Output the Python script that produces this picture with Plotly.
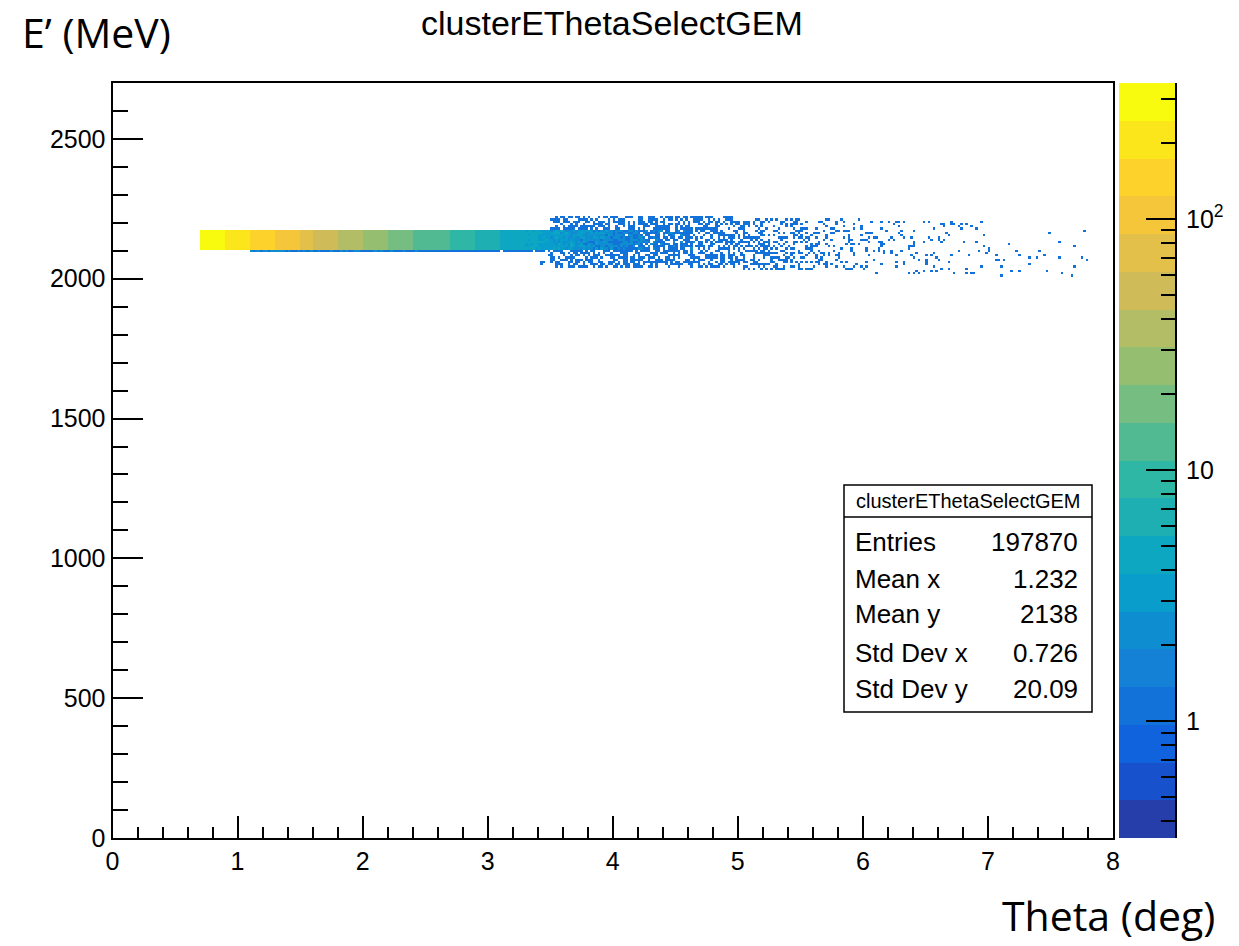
import numpy as np
import plotly.graph_objects as go

# ---------------------------------------------------------------------------
# Histogram content (cell size 0.02 deg x 8 MeV)
# ---------------------------------------------------------------------------
# Core of the elastic band, E' 2104-2176 MeV: mean entries per cell,
# one value per 0.1-deg column starting at 0.7 deg.
core_theta_start = 0.7
core_counts = [330, 285, 235, 190, 155, 130, 105, 88, 72, 60,
               50, 42, 36, 30, 25, 21, 18, 15, 13, 11,
               9.5, 8, 7, 6, 5, 4.3, 3.7, 3.2, 2.6, 2.2,
               1.8, 1.5, 1.2, 1.0, 0.8, 0.6, 0.45, 0.3, 0.2, 0.1]
# Row just below the core (2096-2104 MeV), same columns
rim_counts = [0, 0, 0, 0, 1.6, 1.6, 1.6, 1.6, 1.5, 1.5,
              1.5, 1.4, 1.4, 1.4, 1.3, 1.3, 1.3, 1.2, 1.2, 1.2,
              1.1, 1.0, 1.0, 0.9, 0.9, 0.8, 0.8, 0.8]
# Wide, sparse part: single entries per 0.1-deg column from 3.4 deg,
# spread over the energy window [halo_e_lo, halo_e_hi)
halo_theta_start = 3.4
halo_entries = [6, 55, 65, 68, 68, 68, 68, 68, 68, 68,
                68, 66, 64, 62, 60, 58, 55, 52, 48, 44,
                40, 35, 30, 26, 22, 19, 17, 15, 14, 13,
                13, 14, 13, 9, 8, 8, 5, 5, 3, 3,
                4, 3, 3, 3]
halo_e_lo = [2040] * 16 + [2032] * 10 + [2016] * 10 + [2008] * 8
halo_e_hi = [2224] * 16 + [2216] * 10 + [2208] * 10 + [2200] * 8

stats_rows = [("Entries", "197870"), ("Mean x", "1.232"), ("Mean y", "2138"),
              ("Std Dev x", "0.726"), ("Std Dev y", "20.09")]
hist_name = "clusterEThetaSelectGEM"

x_ticks = list(range(0, 9))
y_ticks = [0, 500, 1000, 1500, 2000, 2500]
z_major = [1, 10, 100]
z_major_text = ["1", "10", "10<sup>2</sup>"]
z_minor = [0.4, 0.5, 0.6, 0.7, 0.8, 0.9, 2, 3, 4, 5, 6, 7, 8, 9,
           20, 30, 40, 50, 60, 70, 80, 90, 200, 300]

# z-axis (log) range and number of colour levels
Z_MIN, Z_MAX, N_LEVELS = 0.342, 348.0, 20
L_MIN, L_MAX = np.log10(Z_MIN), np.log10(Z_MAX)

# ---------------------------------------------------------------------------
# Build the cell table
# ---------------------------------------------------------------------------
DX, DY = 0.02, 8.0
X0, NX = 0.7, 355
Y0, NY = 2000.0, 29
SUB = 5  # fine cells per 0.1-deg column
x_centers = X0 + DX * (np.arange(NX) + 0.5)
y_centers = Y0 + DY * (np.arange(NY) + 0.5)
counts = np.zeros((NY, NX))

ii, jj = np.meshgrid(np.arange(NX), np.arange(NY))
M32 = np.uint64(0xFFFFFFFF)


def hash01(a, b, salt):
    """Deterministic integer hash of a cell index, mapped to [0, 1)."""
    h = (a.astype(np.uint64) * np.uint64(73856093)) ^ \
        (b.astype(np.uint64) * np.uint64(19349663)) ^ np.uint64(salt * 83492791)
    h &= M32
    h ^= h >> np.uint64(16)
    h = (h * np.uint64(0x7FEB352D)) & M32
    h ^= h >> np.uint64(15)
    h = (h * np.uint64(0x846CA68B)) & M32
    h ^= h >> np.uint64(16)
    return h.astype(np.float64) / 4294967296.0


thr_level = hash01(ii, jj, 1)
thr_place = hash01(ii, jj, 2)


def col_slice(theta_start, c):
    i0 = int(round((theta_start + 0.1 * c - X0) / DX))
    return slice(i0, i0 + SUB)


def row_slice(e_lo, e_hi):
    return slice(int(round((e_lo - Y0) / DY)), int(round((e_hi - Y0) / DY)))


def add_level(rows, cols, level):
    """Fill cells with integer counts whose mean is `level`."""
    base = np.floor(level)
    frac = level - base
    counts[rows, cols] += base + (thr_level[rows, cols] < frac)


core_rows = row_slice(2104, 2176)
rim_rows = row_slice(2096, 2104)
for c, lv in enumerate(core_counts):
    add_level(core_rows, col_slice(core_theta_start, c), lv)
for c, lv in enumerate(rim_counts):
    add_level(rim_rows, col_slice(core_theta_start, c), lv)
for c, n in enumerate(halo_entries):
    rows = row_slice(halo_e_lo[c], halo_e_hi[c])
    cols = col_slice(halo_theta_start, c)
    block = thr_place[rows, cols]
    order = np.argsort(block, axis=None, kind="stable")[:n]
    r, q = np.unravel_index(order, block.shape)
    counts[rows.start + r, cols.start + q] += 1

z_log = np.where(counts > 0, np.log10(np.where(counts > 0, counts, 1)), np.nan)

# ---------------------------------------------------------------------------
# kBird palette sampled into discrete levels
# ---------------------------------------------------------------------------
bird_stops = [0.0, 0.125, 0.25, 0.375, 0.5, 0.625, 0.75, 0.875, 1.0]
bird_r = [0.2082, 0.0592, 0.0780, 0.0232, 0.1802, 0.5301, 0.8186, 0.9956, 0.9764]
bird_g = [0.1664, 0.3599, 0.5041, 0.6419, 0.7178, 0.7492, 0.7328, 0.7862, 0.9832]
bird_b = [0.5293, 0.8684, 0.8385, 0.7914, 0.6425, 0.4662, 0.3499, 0.1968, 0.0539]


def bird(f):
    rgb = [np.interp(f, bird_stops, ch) for ch in (bird_r, bird_g, bird_b)]
    return "rgb(%d,%d,%d)" % tuple(int(round(255 * v)) for v in rgb)


colorscale = []
for k in range(N_LEVELS):
    col = bird(min((k + 0.99) / N_LEVELS, 1.0))
    colorscale.append([k / N_LEVELS, col])
    colorscale.append([(k + 1) / N_LEVELS, col])

# ---------------------------------------------------------------------------
# Figure geometry (pixels on a 1239 x 946 page)
# ---------------------------------------------------------------------------
W, H = 1239, 946


def px(x):
    return x / W


def py(y):
    return 1 - y / H


FRAME_L, FRAME_R, FRAME_T, FRAME_B = 112.5, 1113, 83, 838
BAR_L, BAR_R = 1119, 1175
ROOT_FONT = "Liberation Sans, Arial, sans-serif"
SLIDE_FONT = "Open Sans, Lato, sans-serif"

fig = go.Figure()
fig.add_trace(go.Heatmap(
    x=x_centers, y=y_centers, z=z_log, zmin=L_MIN, zmax=L_MAX,
    colorscale=colorscale, showscale=False, zsmooth=False, hoverinfo="skip",
    xaxis="x", yaxis="y"))

band_w = (L_MAX - L_MIN) / N_LEVELS
band_centers = [L_MIN + band_w * (k + 0.5) for k in range(N_LEVELS)]
fig.add_trace(go.Heatmap(
    x=[0.5], y=band_centers, z=[[v] for v in band_centers], zmin=L_MIN, zmax=L_MAX,
    colorscale=colorscale, showscale=False, zsmooth=False, hoverinfo="skip",
    xaxis="x2", yaxis="y2"))

axis_common = dict(showgrid=False, zeroline=False, showline=True, linecolor="black",
                   linewidth=2, ticks="inside", tickcolor="black", tickwidth=1.5,
                   automargin=False,
                   tickfont=dict(family=ROOT_FONT, size=25, color="black"))

fig.update_layout(
    template="none",
    width=W, height=H, margin=dict(l=0, r=0, t=0, b=0, pad=0),
    paper_bgcolor="white", plot_bgcolor="white", showlegend=False,
    font=dict(family=ROOT_FONT, color="black"),
    xaxis=dict(domain=[px(FRAME_L), px(FRAME_R)], range=[0, 8], anchor="y",
               tickmode="array", tickvals=x_ticks, ticklen=22, mirror=True,
               ticklabelstandoff=0,
               minor=dict(dtick=0.2, tick0=0, ticks="inside", ticklen=11,
                          tickcolor="black", tickwidth=1.5),
               **axis_common),
    yaxis=dict(domain=[py(FRAME_B), py(FRAME_T)], range=[0, 2700], anchor="x",
               tickmode="array", tickvals=y_ticks, ticklen=30, mirror=True,
               ticklabelstandoff=0,
               minor=dict(dtick=100, tick0=0, ticks="inside", ticklen=15,
                          tickcolor="black", tickwidth=1.5),
               **axis_common),
    xaxis2=dict(domain=[px(BAR_L), px(BAR_R)], range=[0, 1], anchor="y2",
                visible=False, fixedrange=True, automargin=False),
    yaxis2=dict(domain=[py(FRAME_B), py(FRAME_T)], range=[L_MIN, L_MAX], anchor="x2",
                side="right", tickmode="array",
                tickvals=[np.log10(v) for v in z_major], ticktext=z_major_text,
                ticklen=29, ticklabelstandoff=4,
                minor=dict(tickvals=[np.log10(v) for v in z_minor], ticks="inside",
                           ticklen=14, tickcolor="black", tickwidth=1.5),
                **axis_common),
)

# statistics box
BOX_L, BOX_R, BOX_T, BOX_B, BOX_SEP = 844, 1092, 485, 712, 517
fig.add_shape(type="rect", xref="paper", yref="paper", layer="above",
              x0=px(BOX_L), x1=px(BOX_R), y0=py(BOX_B), y1=py(BOX_T),
              line=dict(color="black", width=1.5), fillcolor="white")
fig.add_shape(type="line", xref="paper", yref="paper", layer="above",
              x0=px(BOX_L), x1=px(BOX_R), y0=py(BOX_SEP), y1=py(BOX_SEP),
              line=dict(color="black", width=1.5))
fig.add_annotation(x=px((BOX_L + BOX_R) / 2), y=py(501), xref="paper", yref="paper",
                   text=hist_name, showarrow=False, xanchor="center", yanchor="middle",
                   font=dict(family=ROOT_FONT, size=20, color="black"))
row_y = [542, 579, 614, 653, 689]
for (lab, val), yy in zip(stats_rows, row_y):
    fig.add_annotation(x=px(853), y=py(yy), xref="paper", yref="paper", text=lab,
                       showarrow=False, xanchor="left", yanchor="middle",
                       font=dict(family=ROOT_FONT, size=26, color="black"))
    fig.add_annotation(x=px(1080), y=py(yy), xref="paper", yref="paper", text=val,
                       showarrow=False, xanchor="right", yanchor="middle",
                       font=dict(family=ROOT_FONT, size=26, color="black"))

# title and axis captions
fig.add_annotation(x=px(612), y=py(23), xref="paper", yref="paper", text=hist_name,
                   showarrow=False, xanchor="center", yanchor="middle",
                   font=dict(family=ROOT_FONT, size=34, color="black"))
fig.add_annotation(x=px(20), y=py(32), xref="paper", yref="paper", text="E’ (MeV)",
                   showarrow=False, xanchor="left", yanchor="middle",
                   font=dict(family=SLIDE_FONT, size=41, color="black"))
fig.add_annotation(x=px(1217), y=py(915), xref="paper", yref="paper", text="Theta (deg)",
                   showarrow=False, xanchor="right", yanchor="middle",
                   font=dict(family=SLIDE_FONT, size=41, color="black"))

fig.write_html("out.html")
